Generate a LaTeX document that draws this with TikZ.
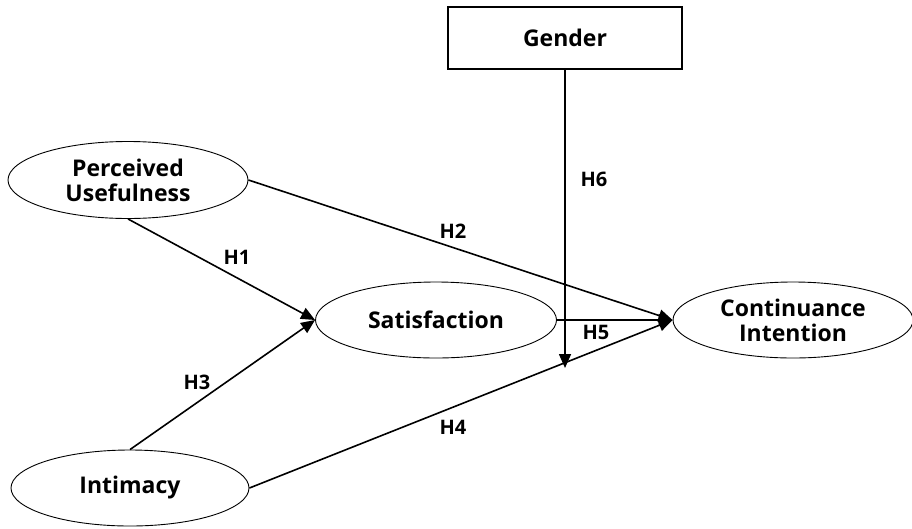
\documentclass[tikz,border=0pt]{standalone}
\usepackage{fontspec}
\setmainfont{Open Sans}
\usepackage{tikz}
\usetikzlibrary{positioning,arrows.meta,shapes.geometric}

\begin{document}
\begin{tikzpicture}[
    x=1pt, y=-1pt,
    construct/.style={ellipse, draw, line width=0.9pt, minimum width=240pt, minimum height=77pt, inner sep=0pt, align=center, font=\fontsize{23}{25}\selectfont\bfseries},
    moderator/.style={rectangle, draw, line width=1.1pt, minimum width=234pt, minimum height=62pt, font=\fontsize{23}{25}\selectfont\bfseries},
    hyp/.style={font=\fontsize{20}{22}\selectfont\bfseries},
    arrow/.style={-{Triangle[length=14pt,width=12pt]}, line width=1.6pt}
]
\useasboundingbox (0,0) rectangle (912,528);

\node[moderator] (gender) at (565,38) {Gender};
\node[construct] (pu) at (128,180) {Perceived\\Usefulness};
\node[construct, minimum width=241pt, minimum height=76pt] (sat) at (436,320) {Satisfaction};
\node[construct, minimum height=76pt] (ci) at (793,320) {Continuance\\Intention};
\node[construct, minimum width=238pt, minimum height=76pt] (inti) at (130,488) {Intimacy};
\coordinate (modend) at (565,368);

\draw[arrow] (pu.south) -- (sat.west);
\draw[arrow] (pu.east) -- (ci.west);
\draw[arrow] (inti.north) -- (sat.west);
\draw[arrow] (inti.east) -- (ci.west);
\draw[arrow] (sat.east) -- (ci.west);
\draw[arrow] (gender.south) -- (modend);

\node[hyp] (h1) at (237,257) {H1};
\node[hyp] (h2) at (453,231) {H2};
\node[hyp] (h3) at (197,382) {H3};
\node[hyp] (h4) at (453,427) {H4};
\node[hyp] (h5) at (596,332) {H5};
\node[hyp] (h6) at (594,179) {H6};
\end{tikzpicture}
\end{document}
